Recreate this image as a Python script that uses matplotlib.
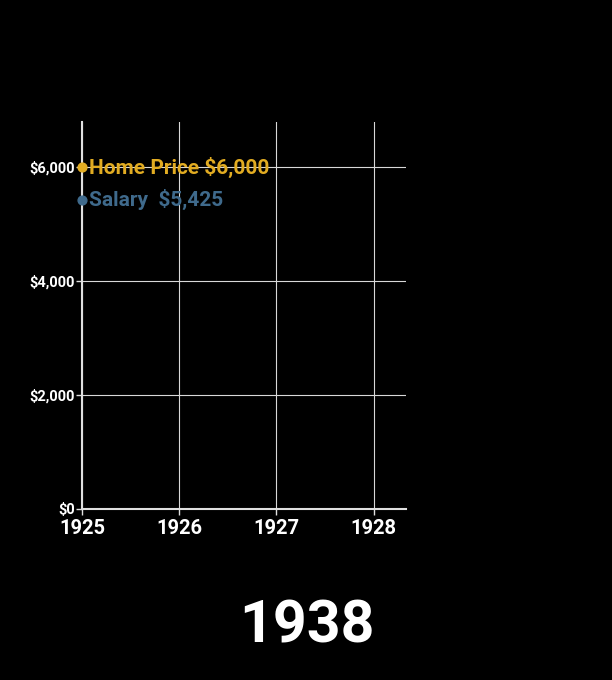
import matplotlib.pyplot as plt
from matplotlib.ticker import FuncFormatter

plt.rcParams['font.family'] = ['Roboto', 'DejaVu Sans']

# data at the current frame
years = [1925]
home_price = [6000]
salary = [5425]
current_year = '1938'

x_ticks = [1925, 1926, 1927, 1928]
y_ticks = [0, 2000, 4000, 6000]

gold = '#e2ac22'
blue = '#3f6a8c'

fig = plt.figure(figsize=(6.12, 6.8), dpi=100, facecolor='black')
ax = fig.add_axes([0.134, 0.2515, 0.529, 0.569], facecolor='black')

ax.set_xlim(1925, 1928.33)
ax.set_ylim(0, 6790)
ax.set_xticks(x_ticks)
ax.set_yticks(y_ticks)
ax.yaxis.set_major_formatter(FuncFormatter(lambda v, p: '${:,.0f}'.format(v)))
ax.grid(True, color='#d8d8d8', linewidth=0.8)
ax.set_axisbelow(True)

for s in ['top', 'right']:
    ax.spines[s].set_visible(False)
for s in ['left', 'bottom']:
    ax.spines[s].set_color('#e0e0e0')
    ax.spines[s].set_linewidth(1.5)

ax.tick_params(colors='#e0e0e0', length=4, width=1)
for lab in ax.get_xticklabels():
    lab.set_color('white')
    lab.set_fontsize(14.5)
    lab.set_fontweight('bold')
for lab in ax.get_yticklabels():
    lab.set_color('white')
    lab.set_fontsize(10.5)
    lab.set_fontweight('bold')
ax.tick_params(axis='x', pad=3.5)
ax.tick_params(axis='y', pad=1)

ax.scatter(years, home_price, color=gold, s=40, zorder=5, clip_on=False)
ax.scatter(years, salary, color=blue, s=40, zorder=5, clip_on=False)

ax.annotate('Home Price ${:,}'.format(home_price[-1]), (years[-1], home_price[-1]),
            xytext=(5, 0), textcoords='offset points', va='center',
            color=gold, fontsize=15, fontweight='bold')
ax.annotate('Salary  ${:,}'.format(salary[-1]), (years[-1], salary[-1]),
            xytext=(5, 0), textcoords='offset points', va='center',
            color=blue, fontsize=15, fontweight='bold')

fig.text(0.502, 0.078, current_year, color='white', fontsize=42.5,
         fontweight='bold', ha='center', va='center')

fig.savefig('out.png', dpi=100, facecolor='black')
